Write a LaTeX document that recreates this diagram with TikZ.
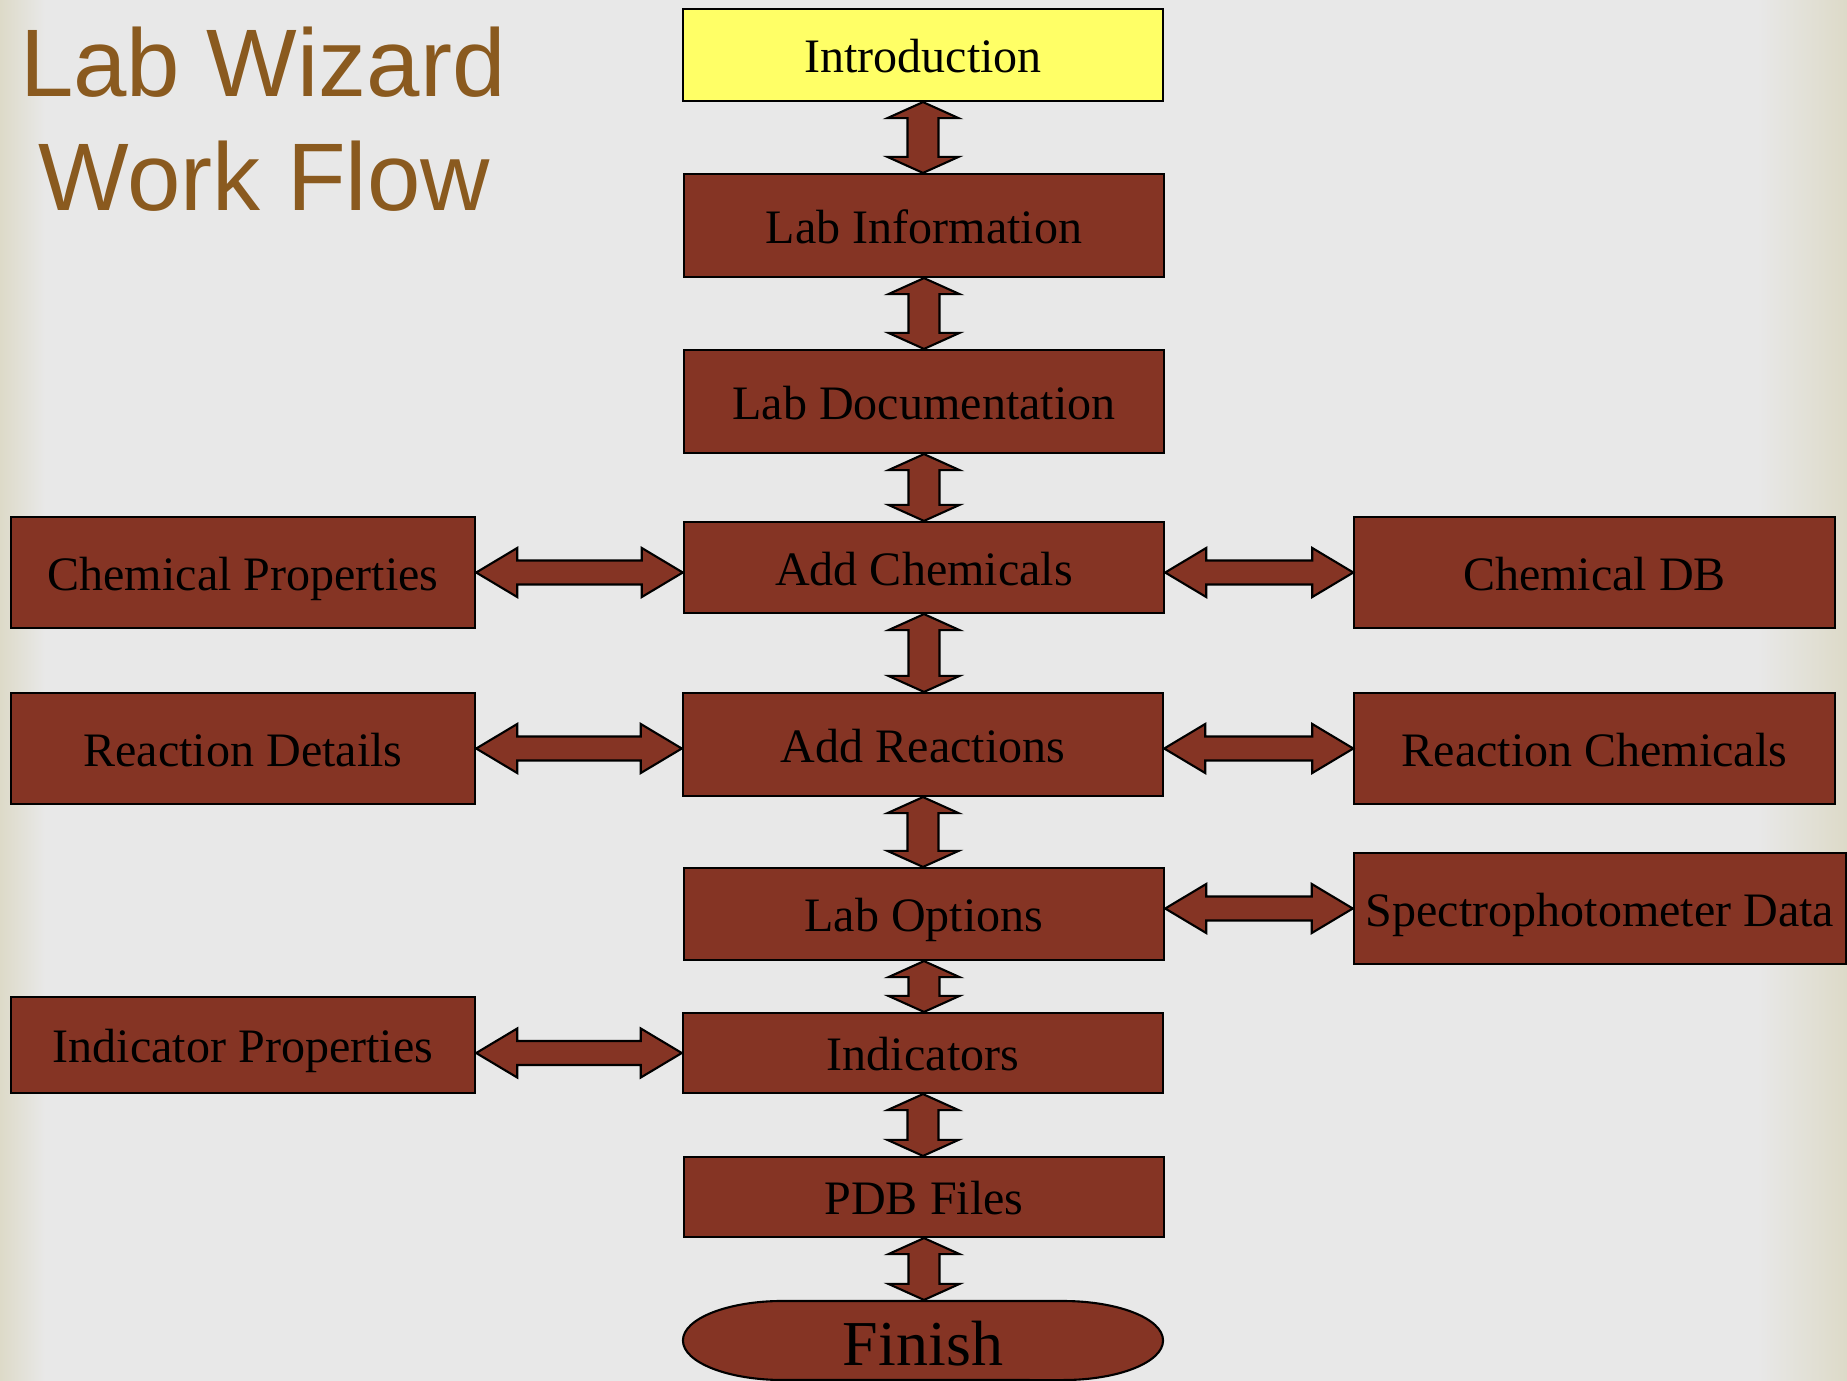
\documentclass[tikz,border=0pt]{standalone}
\usepackage{fontspec}
\setmainfont{Liberation Serif}
\newfontfamily\titlefont{Liberation Sans}
\usetikzlibrary{calc}
\definecolor{boxbrown}{HTML}{853424}
\definecolor{introyellow}{HTML}{FFFF66}
\definecolor{titlebrown}{HTML}{8A5A1F}
\definecolor{paper}{HTML}{E8E8E8}
\definecolor{paperedge}{HTML}{DDDAC8}
\begin{document}
\begin{tikzpicture}[x=0.01cm, y=-0.01cm,
		box/.style={draw=black, line width=0.6pt, fill=boxbrown, inner sep=0pt,
			minimum width=4.8cm, font=\fontsize{13.66}{16}\selectfont,
			text height=10pt, text depth=0pt},
		blk/.style={draw=black, line width=0.6pt, fill=boxbrown, line join=miter},
		title/.style={text=titlebrown, inner sep=0pt, anchor=base,
			font=\titlefont\fontsize{27.3}{32}\selectfont}]
	\useasboundingbox (0,0) rectangle (1847,1381);
	\fill[paper] (0,0) rectangle (1847,1381);
	\shade[left color=paperedge, right color=paper] (0,0) rectangle (45,1381);
	\shade[left color=paper, right color=paperedge] (1757,0) rectangle (1847,1381);
	\node[title] (title1) at (263,96) {Lab Wizard};
	\node[title] (title2) at (264,210) {Work Flow};
	% middle column
	\node[box, fill=introyellow, minimum height=0.92cm] (intro) at (923,55) {Introduction};
	\node[box, minimum height=1.03cm] (info) at (924,225.5) {Lab Information};
	\node[box, minimum height=1.03cm] (docu) at (924,401.5) {Lab Documentation};
	\node[box, minimum height=0.91cm] (chem) at (924,567.5) {Add Chemicals};
	\node[box, minimum height=1.03cm] (react) at (923,744.5) {Add Reactions};
	\node[box, minimum height=0.92cm] (opts) at (924,914) {Lab Options};
	\node[box, minimum height=0.80cm] (indic) at (923,1053) {Indicators};
	\node[box, minimum height=0.80cm] (pdb) at (924,1197) {PDB Files};
	\filldraw[blk] (783,1301) -- (1063,1301)
		arc[start angle=90, end angle=-90, x radius=1cm, y radius=0.395cm] -- (783,1380)
		arc[start angle=270, end angle=90, x radius=1cm, y radius=0.395cm] -- cycle;
	\node[box, draw=none, fill=none, minimum height=0.79cm, text height=14pt,
		font=\fontsize{18.2}{22}\selectfont] (finish) at (923,1340.5) {Finish};
	% side columns
	\node[box, minimum width=4.64cm, minimum height=1.11cm] (cprop) at (243,572.5) {Chemical Properties};
	\node[box, minimum width=4.64cm, minimum height=1.11cm] (rdet) at (243,748.5) {Reaction Details};
	\node[box, minimum width=4.64cm, minimum height=0.96cm] (iprop) at (243,1045) {Indicator Properties};
	\node[box, minimum height=1.11cm] (cdb) at (1594.5,572.5) {Chemical DB};
	\node[box, minimum height=1.11cm] (rchem) at (1594.5,748.5) {Reaction Chemicals};
	\node[box, minimum width=4.92cm, minimum height=1.11cm] (spec) at (1600,908.5) {Spectrophotometer Data};
	% block arrows
	\foreach \a/\b in {intro/info, info/docu, docu/chem, chem/react, react/opts, opts/indic, indic/pdb, pdb/finish}
		\filldraw[blk] let \p1=(\a.south), \p2=(\b.north) in
			(\x1,\y1) -- (\x1+0.355cm,\y1-0.16cm) -- (\x1+0.155cm,\y1-0.16cm)
			-- (\x1+0.155cm,\y2+0.16cm) -- (\x1+0.355cm,\y2+0.16cm) -- (\x1,\y2)
			-- (\x1-0.355cm,\y2+0.16cm) -- (\x1-0.155cm,\y2+0.16cm)
			-- (\x1-0.155cm,\y1-0.16cm) -- (\x1-0.355cm,\y1-0.16cm) -- cycle;
	\foreach \a/\b/\c in {cprop/chem/cprop, chem/cdb/cdb, rdet/react/rdet, react/rchem/rchem, opts/spec/spec, iprop/indic/indic}
		\filldraw[blk] let \p1=(\a.east), \p2=(\b.west), \p3=(\c) in
			(\x1,\y3) -- (\x1+0.41cm,\y3+0.245cm) -- (\x1+0.41cm,\y3+0.12cm)
			-- (\x2-0.41cm,\y3+0.12cm) -- (\x2-0.41cm,\y3+0.245cm) -- (\x2,\y3)
			-- (\x2-0.41cm,\y3-0.245cm) -- (\x2-0.41cm,\y3-0.12cm)
			-- (\x1+0.41cm,\y3-0.12cm) -- (\x1+0.41cm,\y3-0.245cm) -- cycle;
\end{tikzpicture}
\end{document}
